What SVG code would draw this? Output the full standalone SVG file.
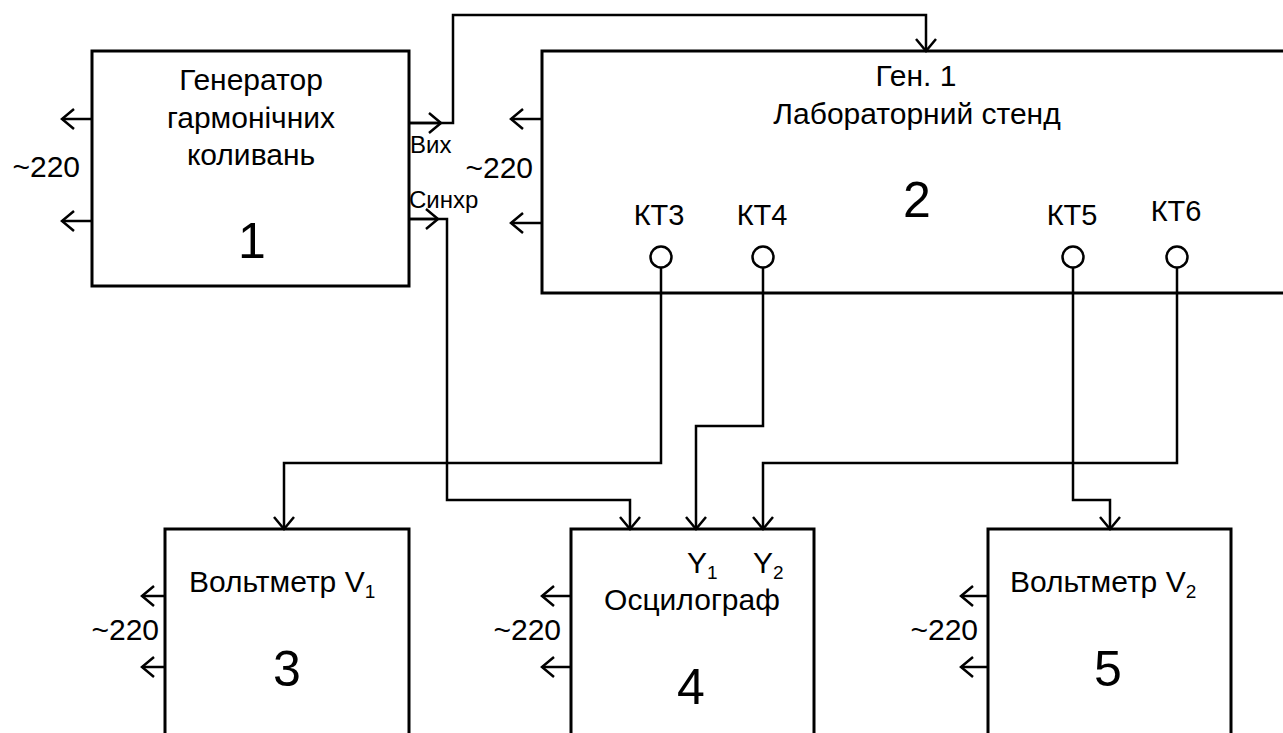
<svg xmlns="http://www.w3.org/2000/svg" width="1283" height="733" viewBox="0 0 1283 733">
<style>
.box{fill:none;stroke:#000;stroke-width:3}
.w{fill:none;stroke:#000;stroke-width:2.5}
.pin{fill:#fff;stroke:#000;stroke-width:2.5}
text{font-family:"Liberation Sans",Arial,sans-serif;fill:#000}
.t{font-size:30px}
.c{text-anchor:middle}
.e{text-anchor:end}
.n{font-size:50px;text-anchor:middle}
.s{font-size:24px}
.k{font-size:29px;text-anchor:middle}
</style>
<defs>
<marker id="a" markerUnits="userSpaceOnUse" markerWidth="20" markerHeight="26" viewBox="-16 -13 20 26" refX="0" refY="0" orient="auto">
<path d="M-12,-10 L0,0 L-12,10" fill="none" stroke="#000" stroke-width="2.5"/>
</marker>
</defs>
<rect width="1283" height="733" fill="#fff"/>

<g id="node1">
<rect class="box" x="92" y="51" width="317" height="235"/>
<text class="t c" x="251" y="90">Генератор</text>
<text class="t c" x="251" y="128">гармонічних</text>
<text class="t c" x="251" y="165">коливань</text>
<text class="n" x="252" y="258">1</text>
<text class="t e" x="80" y="177">~220</text>
<text class="s" x="410" y="153">Вих</text>
<text class="s" x="409" y="208">Синхр</text>
</g>

<g id="node2">
<rect class="box" x="542" y="51" width="760" height="242"/>
<text class="t c" x="916" y="86">Ген. 1</text>
<text class="t c" x="917" y="124">Лабораторний стенд</text>
<text class="n" x="917" y="217">2</text>
<text class="t e" x="533" y="178">~220</text>
<text class="k" x="659" y="225">КТ3</text>
<text class="k" x="762" y="225">КТ4</text>
<text class="k" x="1072" y="225">КТ5</text>
<text class="k" x="1176" y="221">КТ6</text>
</g>

<g id="node3">
<rect class="box" x="165" y="529" width="244" height="240"/>
<text class="t" x="189" y="592">Вольтметр V<tspan font-size="19" dy="6">1</tspan></text>
<text class="t e" x="159" y="640">~220</text>
<text class="n" x="287" y="686">3</text>
</g>

<g id="node4">
<rect class="box" x="571" y="529" width="243" height="240"/>
<text class="t" x="687" y="573">Y<tspan font-size="19" dy="6">1</tspan></text>
<text class="t" x="753" y="573">Y<tspan font-size="19" dy="6">2</tspan></text>
<text class="t c" x="692" y="610">Осцилограф</text>
<text class="t e" x="561" y="640">~220</text>
<text class="n" x="691" y="704">4</text>
</g>

<g id="node5">
<rect class="box" x="988" y="529" width="243" height="240"/>
<text class="t" x="1010" y="592">Вольтметр V<tspan font-size="19" dy="6">2</tspan></text>
<text class="t e" x="978" y="640">~220</text>
<text class="n" x="1108" y="686">5</text>
</g>

<g id="connectors">
<path class="w" d="M409,123 H453 V15 H926 V51" marker-end="url(#a)"/>
<path class="w" d="M409,123 H441" marker-end="url(#a)"/>
<path class="w" d="M409,219 H447 V500 H630 V529" marker-end="url(#a)"/>
<path class="w" d="M409,219 H438" marker-end="url(#a)"/>
<path class="w" d="M661,267 V463 H284 V529" marker-end="url(#a)"/>
<path class="w" d="M763,267 V426 H696 V529" marker-end="url(#a)"/>
<path class="w" d="M1177,267 V463 H763 V529" marker-end="url(#a)"/>
<path class="w" d="M1073,267 V500 H1110 V529" marker-end="url(#a)"/>
<circle class="pin" cx="661" cy="257" r="10.5"/>
<circle class="pin" cx="763" cy="257" r="10.5"/>
<circle class="pin" cx="1073" cy="257" r="10.5"/>
<circle class="pin" cx="1177" cy="257" r="10.5"/>
<path class="w" d="M92,119 H62" marker-end="url(#a)"/>
<path class="w" d="M92,221 H62" marker-end="url(#a)"/>
<path class="w" d="M542,119 H511" marker-end="url(#a)"/>
<path class="w" d="M542,223 H511" marker-end="url(#a)"/>
<path class="w" d="M165,596 H142" marker-end="url(#a)"/>
<path class="w" d="M165,667 H142" marker-end="url(#a)"/>
<path class="w" d="M571,596 H542" marker-end="url(#a)"/>
<path class="w" d="M571,667 H542" marker-end="url(#a)"/>
<path class="w" d="M988,596 H961" marker-end="url(#a)"/>
<path class="w" d="M988,667 H961" marker-end="url(#a)"/>
</g>
</svg>
